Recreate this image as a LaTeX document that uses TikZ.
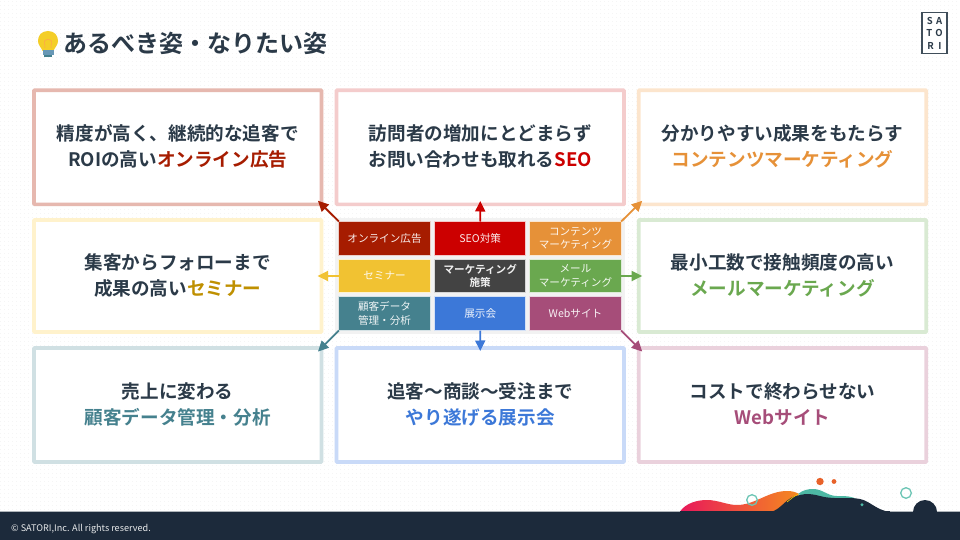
\documentclass[tikz,border=0pt]{standalone}
\usepackage{fontspec}
\usetikzlibrary{arrows.meta}
\setmainfont{Noto Sans CJK JP}
\newfontfamily\jpb{Noto Sans CJK JP Bold}
\definecolor{ink}{HTML}{2B3A48}
\definecolor{navy}{HTML}{1C2A3B}
\definecolor{cA}{HTML}{A61C00}
\definecolor{cB}{HTML}{CC0000}
\definecolor{cC}{HTML}{E69138}
\definecolor{cD}{HTML}{F1C232}
\definecolor{cDt}{HTML}{BF9000}
\definecolor{cE}{HTML}{6AA84F}
\definecolor{cF}{HTML}{45818E}
\definecolor{cG}{HTML}{3C78D8}
\definecolor{cH}{HTML}{A64D79}
\definecolor{cM}{HTML}{434343}
\definecolor{bA}{HTML}{E6B8AF}
\definecolor{bB}{HTML}{F4CCCC}
\definecolor{bC}{HTML}{FCE5CD}
\definecolor{bD}{HTML}{FFF2CC}
\definecolor{bE}{HTML}{D9EAD3}
\definecolor{bF}{HTML}{D0E0E3}
\definecolor{bG}{HTML}{C9DAF8}
\definecolor{bH}{HTML}{EAD1DC}
\definecolor{tealart}{HTML}{4DB8A4}
\definecolor{ringc}{HTML}{6CC5B5}
\definecolor{dotc}{HTML}{E8622A}
\definecolor{gradL}{HTML}{E8185A}
\definecolor{gradR}{HTML}{F58A1F}
\tikzset{
 x=1pt,y=-1pt,
 goal/.style={draw=#1,line width=3.6pt,fill=white,minimum width=287.5pt,minimum height=114pt,inner sep=0pt,outer sep=0pt,rounded corners=0.6pt,anchor=north west},
 goalmid/.style={goal=#1,minimum height=112pt},
 goaltext/.style={text=ink,font=\jpb\fontsize{18.6}{26}\selectfont,align=center,inner sep=0pt},
 cell/.style={fill=#1,draw=white!78!#1,line width=1pt,minimum width=91.4pt,inner sep=0pt,outer sep=0pt,anchor=north west,text=white!92!#1,align=center,font=\fontsize{10.6}{13.4}\selectfont},
 link/.style={draw=#1,line width=1.8pt,-{Triangle[length=10.5pt,width=10pt,fill=#1]}},
}
\begin{document}
\begin{tikzpicture}
\useasboundingbox (0,0) rectangle (960,540);
\fill[white] (0,0) rectangle (960,540);
% dotted paper
\foreach \yy in {1,5,...,511}{\draw[black!4,line width=0.9pt,dash pattern=on 0.9pt off 3.1pt] (0,\yy) -- (960,\yy);}
% title bulb
\fill[cD!80!yellow] (48,31) .. controls (41,31) and (38,36) .. (38,41) .. controls (38,45) and (41,47) .. (42.5,51) -- (53.5,51) .. controls (55,47) and (58,45) .. (58,41) .. controls (58,36) and (55,31) .. (48,31) -- cycle;
\draw[orange!70!white,line width=0.6pt] (45,48) -- (44.5,41) (51,48) -- (51.5,41) (44.5,41) .. controls (46,39) and (50,39) .. (51.5,41);
\fill[cF!70!cG!80!white] (42.5,50.5) rectangle (53.5,55);
\fill[cF] (44,55) rectangle (52,57);
\node[anchor=west,inner sep=0pt,text=ink,font=\jpb\fontsize{24}{28}\selectfont] (title) at (63.5,43) {あるべき姿・なりたい姿};
% logo
\node[draw=ink!90,line width=1.1pt,minimum width=25pt,minimum height=41pt,inner sep=0pt,outer sep=0pt,anchor=north west,fill=white,text=ink,align=center,font=\jpb\fontsize{9.5}{12.7}\selectfont] (logo) at (922,12.7) {S\hspace{3.5pt}A\\T\hspace{3pt}O\\R\hspace{4.5pt}I};
% panel behind cells
\fill[black!5] (335,218) rectangle (625,334);
% goals
\node[goal=bA] (g1) at (34,90.3) {};
\node[goal=bB] (g2) at (336.5,90.3) {};
\node[goal=bC] (g3) at (638.7,90.3) {};
\node[goalmid=bD] (g4) at (34,220) {};
\node[goalmid=bE] (g5) at (638.7,220) {};
\node[goal=bF] (g6) at (34,348) {};
\node[goal=bG] (g7) at (336.5,348) {};
\node[goal=bH] (g8) at (638.7,348) {};
\node[goaltext] at ([yshift=0.7pt]g1.center) {精度が高く、継続的な追客で\\ROIの高い\textcolor{cA}{オンライン広告}};
\node[goaltext] at ([yshift=0.7pt]g2.center) {訪問者の増加にとどまらず\\お問い合わせも取れる\textcolor{cB}{SEO}};
\node[goaltext] at ([yshift=0.7pt]g3.center) {分かりやすい成果をもたらす\\\textcolor{cC}{コンテンツマーケティング}};
\node[goaltext] at ([yshift=0.7pt]g4.center) {集客からフォローまで\\成果の高い\textcolor{cDt}{セミナー}};
\node[goaltext] at ([yshift=0.7pt]g5.center) {最小工数で接触頻度の高い\\\textcolor{cE}{メールマーケティング}};
\node[goaltext] at ([yshift=0.7pt]g6.center) {売上に変わる\\\textcolor{cF}{顧客データ管理・分析}};
\node[goaltext] at ([yshift=0.7pt]g7.center) {追客〜商談〜受注まで\\\textcolor{cG}{やり遂げる展示会}};
\node[goaltext] at ([yshift=0.7pt]g8.center) {コストで終わらせない\\\textcolor{cH}{Webサイト}};
% cells
\node[cell=cA,minimum height=34pt] (c1) at (338.8,221.5) {オンライン広告};
\node[cell=cB,minimum height=34pt] (c2) at (434.5,221.5) {SEO対策};
\node[cell=cC,minimum height=34pt] (c3) at (529.8,221.5) {コンテンツ\\マーケティング};
\node[cell=cD,minimum height=33pt] (c4) at (338.8,259.5) {セミナー};
\node[cell=cM,minimum height=33pt,font=\jpb\fontsize{10.6}{13.4}\selectfont] (c5) at (434.5,259.5) {マーケティング\\施策};
\node[cell=cE,minimum height=33pt] (c6) at (529.8,259.5) {メール\\マーケティング};
\node[cell=cF,minimum height=34pt] (c7) at (338.8,296.5) {顧客データ\\管理・分析};
\node[cell=cG,minimum height=34pt] (c8) at (434.5,296.5) {展示会};
\node[cell=cH,minimum height=34pt] (c9) at (529.8,296.5) {Webサイト};
% connectors
\draw[link=cA,shorten >=-5pt] (c1.north west) -- (g1.south east);
\draw[link=cB,shorten >=-3.3pt] (c2.north) -- (g2.south);
\draw[link=cC,shorten >=-5pt] (c3.north east) -- (g3.south west);
\draw[link=cD,shorten >=-4pt] (c4.west) -- (g4.east);
\draw[link=cE,shorten >=-3.5pt] (c6.east) -- (g5.west);
\draw[link=cF,shorten >=-5pt] (c7.south west) -- (g6.north east);
\draw[link=cG,shorten >=-3pt] (c8.south) -- (g7.north);
\draw[link=cH,shorten >=-5pt] (c9.south east) -- (g8.north west);
% footer art
\shade[left color=gradL,right color=gradR] (680,511.5) .. controls (686,503) and (697,500) .. (707,500) .. controls (718,500) and (727,505) .. (737,505) .. controls (755,505) and (768,491) .. (787,491) .. controls (792,491) and (796,492) .. (799,494) -- (790,505) -- (775,512) -- cycle;
\fill[tealart] (798,494) .. controls (803,490) and (808,489) .. (813,489) .. controls (823,489) and (827,496) .. (837,496) .. controls (845,496) and (853,496) .. (858,500) -- (840,503) -- (805,497) -- cycle;
\fill[navy] (770,512) .. controls (782,510) and (786,496) .. (800,495) .. controls (812,492) and (820,497) .. (828,497.5) .. controls (840,499) and (850,497) .. (860,499) .. controls (870,501) and (876,510) .. (890,512) -- cycle;
\draw[yellow!70!orange,line width=0.6pt] (787,502) .. controls (791,499) and (794,496) .. (798,494.5);
\fill[navy] (913,512) arc[start angle=180,end angle=0,radius=12pt];
\fill[navy] (0,511) rectangle (960,540);
\draw[navy!35,line width=0.5pt] (0,511) -- (680,511) (890,511) -- (913,511) (937,511) -- (960,511);
\draw[ringc,line width=1.3pt] (752,500) circle[radius=5.3pt];
\draw[ringc,line width=1.3pt] (906,493) circle[radius=5.3pt];
\fill[dotc] (820,481.5) circle[radius=3.7pt];
\fill[dotc] (834,481.5) circle[radius=2.4pt];
\fill[tealart] (862,504.7) circle[radius=1.6pt];
\node[anchor=west,inner sep=0pt,text=white!90!navy,font=\fontsize{9.1}{11}\selectfont] (copy) at (11,529) {© SATORI,Inc. All rights reserved.};
\end{tikzpicture}
\end{document}
